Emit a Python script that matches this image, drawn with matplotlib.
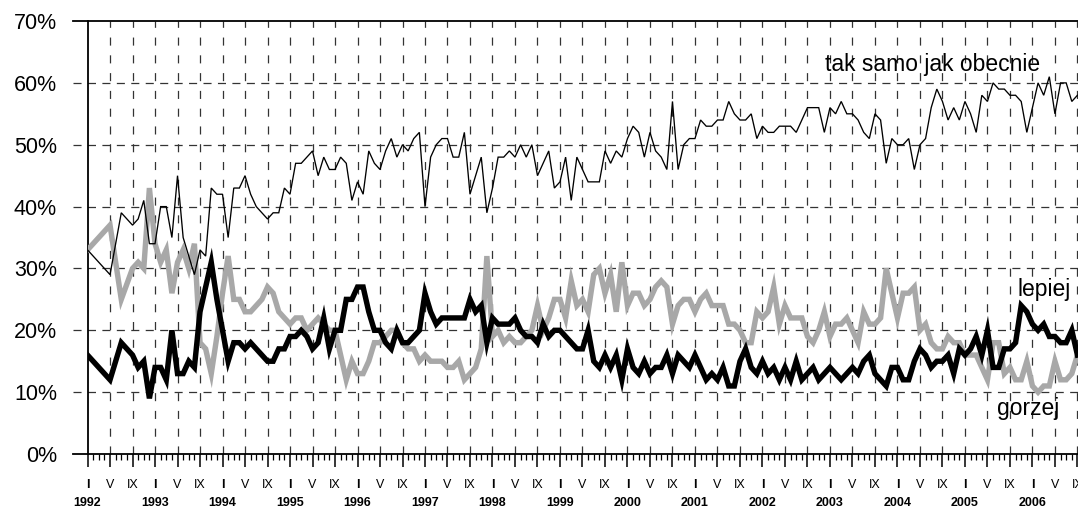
import numpy as np
import matplotlib.pyplot as plt
from matplotlib.transforms import blended_transform_factory

plt.rcParams['font.family'] = ['Liberation Sans', 'DejaVu Sans']
plt.rcParams['lines.scale_dashes'] = False

nan = np.nan

# monthly results, I 1992 .. IX 2006 (nan = no survey that month)
tak_samo = [
    33, nan, nan, nan, 29, nan, 39, nan, 37, 38, 41, 34,   # 1992
    34, 40, 40, 35, 45, 35, 32, 29, 33, 32, 43, 42,        # 1993
    42, 35, 43, 43, 45, 42, 40, 39, 38, 39, 39, 43,        # 1994
    42, 47, 47, 48, 49, 45, 48, 46, 46, 48, 47, 41,        # 1995
    44, 42, 49, 47, 46, 49, 51, 48, 50, 49, 51, 52,        # 1996
    40, 48, 50, 51, 51, 48, 48, 52, 42, 45, 48, 39,        # 1997
    43, 48, 48, 49, 48, 50, 48, 50, 45, 47, 49, 43,        # 1998
    44, 48, 41, 48, 46, 44, 44, 44, 49, 47, 49, 48,        # 1999
    51, 53, 52, 48, 52, 49, 48, 46, 57, 46, 50, 51,        # 2000
    51, 54, 53, 53, 54, 54, 57, 55, 54, 54, 55, 51,        # 2001
    53, 52, 52, 53, 53, 53, 52, 54, 56, 56, 56, 52,        # 2002
    56, 55, 57, 55, 55, 54, 52, 51, 55, 54, 47, 51,        # 2003
    50, 50, 51, 46, 50, 51, 56, 59, 57, 54, 56, 54,        # 2004
    57, 55, 52, 58, 57, 60, 59, 59, 58, 58, 57, 52,        # 2005
    56, 60, 58, 61, 55, 60, 60, 57, 58,                    # 2006
]
lepiej = [
    16, nan, nan, nan, 12, nan, 18, nan, 16, 14, 15, 9,
    14, 14, 12, 20, 13, 13, 15, 14, 23, 27, 31, 25,
    20, 15, 18, 18, 17, 18, 17, 16, 15, 15, 17, 17,
    19, 19, 20, 19, 17, 18, 22, 17, 20, 20, 25, 25,
    27, 27, 23, 20, 20, 18, 17, 20, 18, 18, 19, 20,
    26, 23, 21, 22, 22, 22, 22, 22, 25, 23, 24, 18,
    22, 21, 21, 21, 22, 20, 19, 19, 18, 21, 19, 20,
    20, 19, 18, 17, 17, 20, 15, 14, 16, 14, 16, 12,
    17, 14, 13, 15, 13, 14, 14, 16, 13, 16, 15, 14,
    16, 14, 12, 13, 12, 14, 11, 11, 15, 17, 14, 13,
    15, 13, 14, 12, 14, 12, 15, 12, 13, 14, 12, 13,
    14, 13, 12, 13, 14, 13, 15, 16, 13, 12, 11, 14,
    14, 12, 12, 15, 17, 16, 14, 15, 15, 16, 13, 17,
    16, 17, 19, 16, 20, 14, 14, 17, 17, 18, 24, 23,
    21, 20, 21, 19, 19, 18, 18, 20, 16,
]
gorzej = [
    33, nan, nan, nan, 37, nan, 25, nan, 30, 31, 30, 43,
    34, 31, 33, 26, 31, 33, 30, 34, 18, 17, 13, 19,
    26, 32, 25, 25, 23, 23, 24, 25, 27, 26, 23, 22,
    21, 22, 22, 20, 21, 22, 21, 20, 20, 16, 12, 15,
    13, 13, 15, 18, 18, 19, 20, 20, 18, 17, 17, 15,
    16, 15, 15, 15, 14, 14, 15, 12, 13, 14, 17, 32,
    19, 20, 18, 19, 18, 18, 19, 20, 24, 20, 22, 25,
    25, 22, 28, 24, 25, 23, 29, 30, 26, 29, 23, 31,
    24, 26, 26, 24, 25, 27, 28, 27, 21, 24, 25, 25,
    23, 25, 26, 24, 24, 24, 21, 21, 20, 18, 18, 23,
    22, 23, 27, 21, 24, 22, 22, 22, 19, 18, 20, 23,
    19, 21, 21, 22, 20, 18, 23, 21, 21, 22, 30, 26,
    22, 26, 26, 27, 20, 21, 18, 17, 17, 19, 18, 18,
    16, 16, 16, 14, 12, 18, 18, 13, 14, 12, 12, 15,
    11, 10, 11, 11, 15, 12, 12, 13, 16,
]

years = list(range(1992, 2007))
roman = ['I', 'V', 'IX']
y_ticks = list(range(0, 80, 10))

months = np.arange(len(tak_samo))
x_max = months[-1] + 0.1

fig = plt.figure(figsize=(10.78, 5.07), dpi=100)
ax = fig.add_axes([0.0812, 0.1045, 0.9188, 0.8540])
ax.set_xlim(0, x_max)
ax.set_ylim(0, 70)

# grid: dashed, horizontal ones run out past the y axis
ext = -0.0147
for y in y_ticks[1:-1]:
    ax.axhline(y, xmin=ext, xmax=1, color='#333333', lw=0.9,
               ls=(0, (5.8, 4.6)), clip_on=False, zorder=1)
for m in range(4, len(months), 4):
    ax.axvline(m, color='#333333', lw=0.9, ls=(0, (5.8, 7.0)), zorder=1)
for y in (0, 70):
    ax.axhline(y, xmin=ext, xmax=1, color='black', lw=1.3,
               clip_on=False, zorder=3)


def draw(vals, **kw):
    v = np.array(vals, dtype=float)
    ok = ~np.isnan(v)
    ax.plot(months[ok], v[ok], solid_joinstyle='miter', **kw)


draw(gorzej, color='#a8a8a8', lw=3.9, zorder=4)
draw(lepiej, color='black', lw=3.9, zorder=5)
draw(tak_samo, color='black', lw=0.95, zorder=6)

# axes
for s in ('top', 'right', 'bottom'):
    ax.spines[s].set_visible(False)
ax.spines['left'].set_linewidth(1.3)
ax.spines['left'].set_zorder(3)

ax.set_yticks(y_ticks)
ax.set_yticklabels([f'{v}%' for v in y_ticks], fontsize=15.5)
ax.tick_params(axis='y', length=0, pad=22)

major = list(range(0, len(months), 4))
ax.set_xticks(major)
ax.set_xticklabels([roman[i % 3] for i in range(len(major))], fontsize=9)
ax.set_xticks(range(len(months)), minor=True)
ax.tick_params(axis='x', which='major', length=9, width=1.1, pad=9,
               color='black')
ax.tick_params(axis='x', which='minor', length=4, width=0.9, color='black')
for lab in ax.get_xticklabels():
    if lab.get_text() == 'I':
        lab.set_fontweight('bold')

trans = blended_transform_factory(ax.transData, ax.transAxes)
for i, yr in enumerate(years):
    ax.text(i * 12, -0.112, str(yr), transform=trans, ha='center',
            va='center', fontsize=9, fontweight='bold')

ax.text(131.1, 61.9, 'tak samo jak obecnie', fontsize=16.5, va='baseline')
ax.text(165.4, 25.6, 'lepiej', fontsize=16.5, va='baseline')
ax.text(161.7, 6.3, 'gorzej', fontsize=16.5, va='baseline')

fig.savefig('out.png', dpi=100)
